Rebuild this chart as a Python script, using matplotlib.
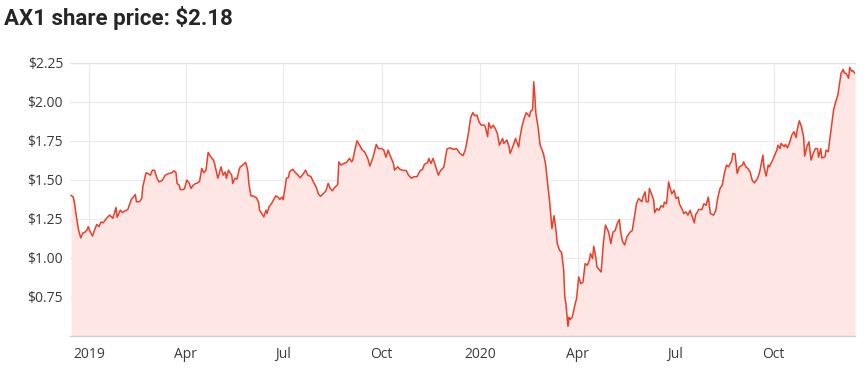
import matplotlib
matplotlib.use("Agg")
import matplotlib.pyplot as plt
import pandas as pd

title = "AX1 share price: $2.18"

dates = [
    "2018-12-15", "2018-12-17", "2018-12-18", "2018-12-20", "2018-12-22", "2018-12-24", "2018-12-26", "2018-12-28",
    "2018-12-30", "2018-12-31", "2019-01-02", "2019-01-04", "2019-01-06", "2019-01-08", "2019-01-10", "2019-01-12",
    "2019-01-14", "2019-01-17", "2019-01-20", "2019-01-23", "2019-01-26", "2019-01-27", "2019-01-30", "2019-02-01",
    "2019-02-03", "2019-02-06", "2019-02-09", "2019-02-10", "2019-02-13", "2019-02-14", "2019-02-17", "2019-02-19",
    "2019-02-20", "2019-02-23", "2019-02-25", "2019-02-27", "2019-03-01", "2019-03-03", "2019-03-05", "2019-03-07",
    "2019-03-10", "2019-03-13", "2019-03-16", "2019-03-19", "2019-03-21", "2019-03-23", "2019-03-24", "2019-03-26",
    "2019-03-27", "2019-03-30", "2019-03-31", "2019-04-02", "2019-04-04", "2019-04-06", "2019-04-08", "2019-04-10",
    "2019-04-12", "2019-04-14", "2019-04-16", "2019-04-18", "2019-04-20", "2019-04-22", "2019-04-24", "2019-04-27",
    "2019-04-28", "2019-05-01", "2019-05-02", "2019-05-04", "2019-05-06", "2019-05-08", "2019-05-09", "2019-05-11",
    "2019-05-12", "2019-05-14", "2019-05-15", "2019-05-17", "2019-05-19", "2019-05-21", "2019-05-22", "2019-05-25",
    "2019-05-27", "2019-05-29", "2019-05-30", "2019-06-01", "2019-06-03", "2019-06-06", "2019-06-08", "2019-06-09",
    "2019-06-11", "2019-06-13", "2019-06-15", "2019-06-16", "2019-06-18", "2019-06-20", "2019-06-22", "2019-06-24",
    "2019-06-26", "2019-06-28", "2019-06-30", "2019-07-01", "2019-07-03", "2019-07-04", "2019-07-06", "2019-07-07",
    "2019-07-10", "2019-07-12", "2019-07-15", "2019-07-17", "2019-07-20", "2019-07-22", "2019-07-24", "2019-07-27",
    "2019-07-29", "2019-08-01", "2019-08-03", "2019-08-05", "2019-08-07", "2019-08-10", "2019-08-12", "2019-08-14",
    "2019-08-16", "2019-08-18", "2019-08-21", "2019-08-22", "2019-08-24", "2019-08-27", "2019-08-29", "2019-09-01",
    "2019-09-03", "2019-09-04", "2019-09-06", "2019-09-08", "2019-09-11", "2019-09-13", "2019-09-15", "2019-09-18",
    "2019-09-20", "2019-09-23", "2019-09-26", "2019-09-28", "2019-10-01", "2019-10-03", "2019-10-05", "2019-10-07",
    "2019-10-09", "2019-10-12", "2019-10-13", "2019-10-16", "2019-10-18", "2019-10-21", "2019-10-24", "2019-10-26",
    "2019-10-29", "2019-10-31", "2019-11-03", "2019-11-06", "2019-11-08", "2019-11-10", "2019-11-13", "2019-11-14",
    "2019-11-16", "2019-11-18", "2019-11-20", "2019-11-23", "2019-11-25", "2019-11-28", "2019-12-01", "2019-12-04",
    "2019-12-07", "2019-12-10", "2019-12-13", "2019-12-16", "2019-12-18", "2019-12-19", "2019-12-21", "2019-12-23",
    "2019-12-25", "2019-12-27", "2019-12-29", "2019-12-31", "2020-01-02", "2020-01-05", "2020-01-06", "2020-01-08",
    "2020-01-09", "2020-01-11", "2020-01-13", "2020-01-15", "2020-01-17", "2020-01-19", "2020-01-22", "2020-01-23",
    "2020-01-26", "2020-01-28", "2020-01-29", "2020-02-01", "2020-02-03", "2020-02-06", "2020-02-07", "2020-02-09",
    "2020-02-11", "2020-02-13", "2020-02-16", "2020-02-17", "2020-02-19", "2020-02-20", "2020-02-21", "2020-02-22",
    "2020-02-24", "2020-02-26", "2020-02-29", "2020-03-02", "2020-03-04", "2020-03-06", "2020-03-08", "2020-03-10",
    "2020-03-12", "2020-03-13", "2020-03-15", "2020-03-17", "2020-03-19", "2020-03-20", "2020-03-21", "2020-03-23",
    "2020-03-24", "2020-03-25", "2020-03-27", "2020-03-29", "2020-03-31", "2020-04-02", "2020-04-04", "2020-04-06",
    "2020-04-08", "2020-04-10", "2020-04-12", "2020-04-13", "2020-04-15", "2020-04-16", "2020-04-18", "2020-04-19",
    "2020-04-21", "2020-04-23", "2020-04-25", "2020-04-27", "2020-04-30", "2020-05-02", "2020-05-04", "2020-05-06",
    "2020-05-08", "2020-05-10", "2020-05-11", "2020-05-13", "2020-05-15", "2020-05-17", "2020-05-18", "2020-05-20",
    "2020-05-22", "2020-05-24", "2020-05-26", "2020-05-28", "2020-05-31", "2020-06-01", "2020-06-03", "2020-06-04",
    "2020-06-06", "2020-06-07", "2020-06-09", "2020-06-11", "2020-06-12", "2020-06-14", "2020-06-16", "2020-06-18",
    "2020-06-20", "2020-06-21", "2020-06-23", "2020-06-25", "2020-06-26", "2020-06-28", "2020-06-30", "2020-07-02",
    "2020-07-04", "2020-07-05", "2020-07-08", "2020-07-09", "2020-07-11", "2020-07-13", "2020-07-15", "2020-07-16",
    "2020-07-19", "2020-07-20", "2020-07-22", "2020-07-23", "2020-07-26", "2020-07-28", "2020-07-30", "2020-08-01",
    "2020-08-03", "2020-08-06", "2020-08-08", "2020-08-10", "2020-08-12", "2020-08-14", "2020-08-16", "2020-08-18",
    "2020-08-20", "2020-08-23", "2020-08-24", "2020-08-26", "2020-08-28", "2020-08-30", "2020-09-02", "2020-09-03",
    "2020-09-05", "2020-09-07", "2020-09-09", "2020-09-11", "2020-09-13", "2020-09-16", "2020-09-18", "2020-09-21",
    "2020-09-22", "2020-09-24", "2020-09-26", "2020-09-27", "2020-09-30", "2020-10-02", "2020-10-04", "2020-10-05",
    "2020-10-07", "2020-10-08", "2020-10-11", "2020-10-12", "2020-10-14", "2020-10-16", "2020-10-18", "2020-10-20",
    "2020-10-22", "2020-10-23", "2020-10-25", "2020-10-27", "2020-10-29", "2020-10-30", "2020-11-01", "2020-11-03",
    "2020-11-05", "2020-11-07", "2020-11-09", "2020-11-11", "2020-11-12", "2020-11-14", "2020-11-15", "2020-11-18",
    "2020-11-19", "2020-11-21", "2020-11-22", "2020-11-24", "2020-11-26", "2020-11-28", "2020-11-30", "2020-12-02",
    "2020-12-03", "2020-12-05", "2020-12-06", "2020-12-08", "2020-12-10", "2020-12-11", "2020-12-13", "2020-12-14",
    "2020-12-16",
]

prices = [
    1.40, 1.39, 1.36, 1.263, 1.178, 1.128, 1.16, 1.165,
    1.18, 1.20, 1.165, 1.14, 1.18, 1.214, 1.20, 1.23,
    1.225, 1.253, 1.274, 1.253, 1.323, 1.26, 1.306, 1.29,
    1.30, 1.31, 1.37, 1.38, 1.406, 1.36, 1.36, 1.38,
    1.455, 1.545, 1.54, 1.53, 1.562, 1.56, 1.515, 1.487,
    1.495, 1.53, 1.54, 1.545, 1.558, 1.545, 1.477, 1.465,
    1.438, 1.438, 1.445, 1.498, 1.483, 1.445, 1.465, 1.475,
    1.48, 1.49, 1.573, 1.545, 1.562, 1.675, 1.652, 1.626,
    1.605, 1.51, 1.53, 1.583, 1.53, 1.55, 1.51, 1.562,
    1.55, 1.53, 1.477, 1.51, 1.505, 1.567, 1.583, 1.599,
    1.612, 1.56, 1.477, 1.397, 1.397, 1.385, 1.36, 1.306,
    1.285, 1.263, 1.306, 1.285, 1.33, 1.346, 1.37, 1.397,
    1.39, 1.375, 1.39, 1.373, 1.455, 1.51, 1.515, 1.551,
    1.568, 1.55, 1.53, 1.513, 1.54, 1.562, 1.53, 1.52,
    1.49, 1.451, 1.408, 1.395, 1.408, 1.43, 1.477, 1.445,
    1.43, 1.45, 1.47, 1.615, 1.595, 1.605, 1.61, 1.637,
    1.615, 1.625, 1.69, 1.75, 1.715, 1.69, 1.68, 1.637,
    1.588, 1.645, 1.727, 1.70, 1.70, 1.69, 1.645, 1.69,
    1.655, 1.605, 1.562, 1.583, 1.568, 1.56, 1.56, 1.53,
    1.51, 1.52, 1.52, 1.56, 1.565, 1.60, 1.61, 1.637,
    1.605, 1.637, 1.595, 1.53, 1.56, 1.58, 1.697, 1.705,
    1.695, 1.70, 1.67, 1.655, 1.69, 1.722, 1.797, 1.893,
    1.93, 1.91, 1.915, 1.87, 1.85, 1.85, 1.835, 1.776,
    1.865, 1.83, 1.85, 1.83, 1.797, 1.722, 1.765, 1.733,
    1.755, 1.712, 1.669, 1.722, 1.765, 1.71, 1.765, 1.84,
    1.893, 1.93, 1.905, 1.937, 1.95, 2.128, 2.04, 1.926,
    1.84, 1.722, 1.669, 1.605, 1.477, 1.349, 1.188, 1.27,
    1.165, 1.092, 1.05, 1.035, 0.921, 0.75, 0.71, 0.562,
    0.62, 0.605, 0.62, 0.686, 0.74, 0.878, 0.835, 0.845,
    0.964, 0.953, 0.985, 1.028, 0.996, 1.075, 1.006, 0.943,
    0.927, 0.91, 1.092, 1.21, 1.165, 1.092, 1.165, 1.175,
    1.22, 1.245, 1.175, 1.103, 1.083, 1.135, 1.145, 1.165,
    1.175, 1.263, 1.349, 1.38, 1.36, 1.39, 1.423, 1.36,
    1.36, 1.445, 1.41, 1.37, 1.29, 1.316, 1.305, 1.335,
    1.325, 1.357, 1.347, 1.487, 1.455, 1.41, 1.433, 1.38,
    1.39, 1.347, 1.305, 1.284, 1.295, 1.274, 1.305, 1.284,
    1.224, 1.274, 1.295, 1.31, 1.31, 1.347, 1.337, 1.39,
    1.284, 1.274, 1.305, 1.39, 1.445, 1.466, 1.541, 1.594,
    1.583, 1.625, 1.669, 1.665, 1.541, 1.583, 1.594, 1.615,
    1.583, 1.573, 1.551, 1.498, 1.48, 1.508, 1.551, 1.658,
    1.583, 1.524, 1.594, 1.583, 1.625, 1.658, 1.69, 1.722,
    1.70, 1.733, 1.712, 1.727, 1.705, 1.74, 1.787, 1.808,
    1.771, 1.819, 1.878, 1.84, 1.776, 1.652, 1.712, 1.743,
    1.626, 1.669, 1.70, 1.70, 1.645, 1.70, 1.64, 1.648,
    1.69, 1.68, 1.733, 1.84, 1.947, 2.0, 2.043, 2.139,
    2.182, 2.207, 2.185, 2.18, 2.15, 2.22, 2.195, 2.20,
    2.18,
]

y_ticks = [0.75, 1.00, 1.25, 1.50, 1.75, 2.00, 2.25]
y_tick_labels = ["$0.75", "$1.00", "$1.25", "$1.50", "$1.75", "$2.00", "$2.25"]
x_tick_dates = ["2019-01-01", "2019-04-01", "2019-07-01", "2019-10-01",
                "2020-01-01", "2020-04-01", "2020-07-01", "2020-10-01"]
x_tick_labels = ["2019", "Apr", "Jul", "Oct", "2020", "Apr", "Jul", "Oct"]

x = pd.to_datetime(dates)
xt = pd.to_datetime(x_tick_dates)

line_color = "#ea3e28"
fill_color = "#fde6e3"

fig = plt.figure(figsize=(8.67, 3.68), dpi=100)
ax = fig.add_axes([70 / 867, 1 - 336 / 368, 785 / 867, (336 - 62.7) / 368])

ax.fill_between(x, prices, 0, color=fill_color, linewidth=0, zorder=1)
ax.plot(x, prices, color=line_color, linewidth=1.1, zorder=3)

ax.set_ylim(0.5, 2.25)
ax.set_xlim(pd.Timestamp("2018-12-14"), pd.Timestamp("2020-12-16"))

ax.set_yticks(y_ticks)
ax.set_yticklabels(y_tick_labels)
ax.set_xticks(xt)
ax.set_xticklabels(x_tick_labels)

tick_font = ["Open Sans", "DejaVu Sans"]
for lab in ax.get_yticklabels() + ax.get_xticklabels():
    lab.set_fontfamily(tick_font)
    lab.set_fontsize(10)
    lab.set_color("#3a3a3a")

ax.tick_params(axis="both", length=0)
ax.tick_params(axis="y", pad=5)
ax.tick_params(axis="x", pad=8)

ax.grid(True, color="#ebebeb", linewidth=0.9, zorder=0)
ax.set_axisbelow(True)

for s in ["left", "right"]:
    ax.spines[s].set_visible(False)
ax.spines["top"].set_color("#e3e3e3")
ax.spines["top"].set_linewidth(0.9)
ax.spines["bottom"].set_color("#cfcfcf")
ax.spines["bottom"].set_linewidth(1.0)

fig.text(4 / 867, 1 - 18 / 368, title, fontsize=16, fontweight="bold",
         family=["Roboto", "DejaVu Sans"],
         color="#262626", va="center", ha="left")

fig.savefig("out.png", dpi=100, facecolor="white")
